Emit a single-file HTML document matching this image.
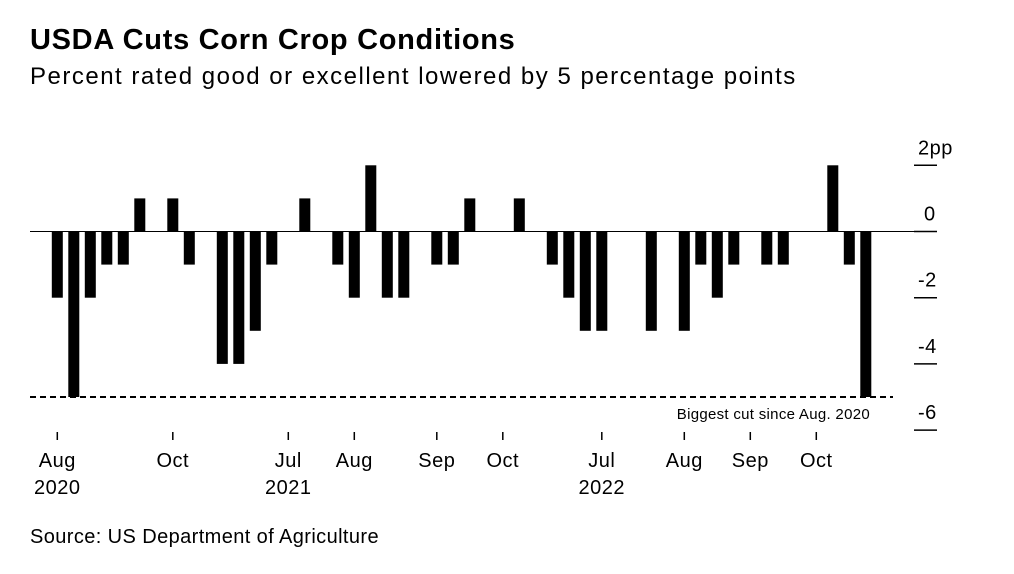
<!DOCTYPE html>
<html><head><meta charset="utf-8">
<style>
body{margin:0;background:#fff;font-family:"Liberation Sans",sans-serif;}
#wrap{position:relative;width:1014px;height:574px;overflow:hidden;}
.t{position:absolute;left:30px;white-space:nowrap;color:#000;}
</style></head><body>
<div id="wrap">
<div class="t" style="top:24px;font-size:29px;font-weight:bold;letter-spacing:0.7px">USDA Cuts Corn Crop Conditions</div>
<div class="t" style="top:63px;font-size:24px;letter-spacing:1.5px">Percent rated good or excellent lowered by 5 percentage points</div>
<div class="t" style="top:526px;font-size:20px;letter-spacing:0.4px">Source: US Department of Agriculture</div>
<svg id="chart" width="1014" height="574" style="position:absolute;left:0;top:0"></svg>
</div>
<script>
const values=[-2,-5,-2,-1,-1,1,0,1,-1,0,-4,-4,-3,-1,0,1,0,-1,-2,2,-2,-2,0,-1,-1,1,0,0,1,0,-1,-2,-3,-3,0,0,-3,0,-3,-1,-2,-1,0,-1,-1,0,0,2,-1,-5];
const yTicks=[2,0,-2,-4,-6];
const yTickLabels=["2pp","0","-2","-4","-6"];
const xTickIdx=[0,7,14,18,23,27,33,38,42,46];
const xTickLabels=["Aug","Oct","Jul","Aug","Sep","Oct","Jul","Aug","Sep","Oct"];
const yearLabels=[[0,"2020"],[14,"2021"],[33,"2022"]];
const refValue=-5;
const NS="http://www.w3.org/2000/svg";
const svg=document.getElementById('chart');
const x0=57.3,step=16.5,bw=11;
const xc=i=>x0+i*step;
const y=v=>231.5-v*33.1;
function mk(tag,attrs,txt){const e=document.createElementNS(NS,tag);for(const k in attrs)e.setAttribute(k,attrs[k]);if(txt!==undefined)e.textContent=txt;svg.appendChild(e);return e;}
let l=mk('line',{x1:30,x2:937,y1:y(0),y2:y(0),stroke:'#000','stroke-width':1});


values.forEach((v,i)=>{if(v===0)return;
 const r=mk('rect',{x:xc(i)-bw/2,y:Math.min(y(v),y(0)),width:bw,height:Math.abs(y(v)-y(0)),fill:'#000'});
 
 
});
let d=mk('line',{x1:30,x2:893,y1:y(refValue),y2:y(refValue),stroke:'#000','stroke-width':2,'stroke-dasharray':'6,4'});


let a=mk('text',{x:870,y:419,'font-size':15,'letter-spacing':0.3,'text-anchor':'end','font-family':'Liberation Sans'},'Biggest cut since Aug. 2020');


yTicks.forEach((v,i)=>{
 const t=mk('line',{x1:914,x2:937,y1:y(v),y2:y(v),stroke:'#000','stroke-width':1.5});
 
 
 const tx=mk('text',{x:v===0?924:918,y:y(v)-11,'font-size':20,'letter-spacing':0.5,'font-family':'Liberation Sans'},yTickLabels[i]);
 
 
});
xTickIdx.forEach((idx,i)=>{
 const t=mk('line',{x1:xc(idx),x2:xc(idx),y1:432,y2:440,stroke:'#000','stroke-width':1.5});
 
 
 const tx=mk('text',{x:xc(idx),y:467,'font-size':20,'letter-spacing':0.5,'text-anchor':'middle','font-family':'Liberation Sans'},xTickLabels[i]);
 
 
});
yearLabels.forEach(([idx,lab])=>{
 const tx=mk('text',{x:xc(idx),y:494,'font-size':20,'letter-spacing':0.5,'text-anchor':'middle','font-family':'Liberation Sans'},lab);
 
 
});
</script>
</body></html>
